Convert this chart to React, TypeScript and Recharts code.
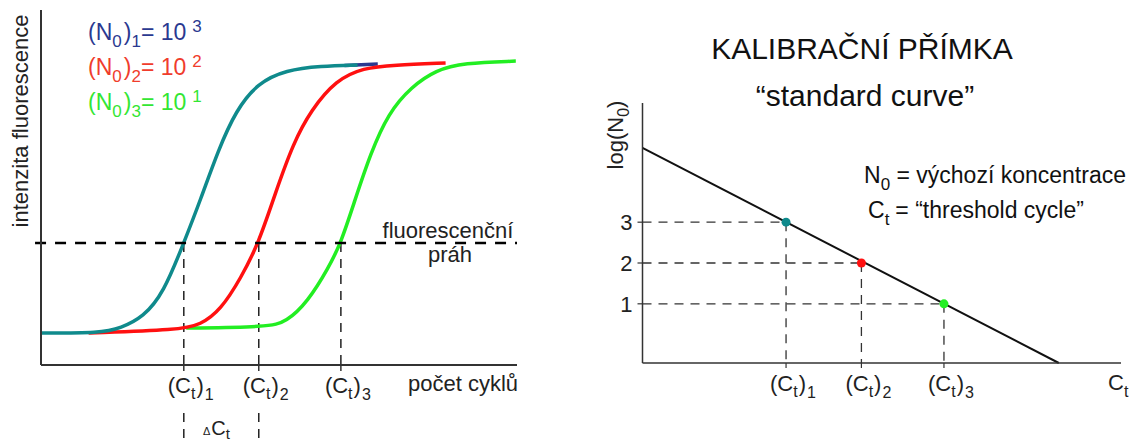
import React from 'react';
import {
  LineChart,
  Line,
  ComposedChart,
  Scatter,
  Cell,
  XAxis,
  YAxis,
  ReferenceLine,
  Legend,
} from 'recharts';

const FONT = '"Liberation Sans", Arial, sans-serif';

// amplification curves: cycle vs fluorescence (0-100 of axis)
const curve1 = [
  { x: 0, y: 9.0 }, { x: 5.0, y: 9.0 }, { x: 6.7, y: 10.4 }, { x: 8.6, y: 13.5 },
  { x: 10.3, y: 20.3 }, { x: 12.0, y: 34.4 }, { x: 13.4, y: 46.5 }, { x: 14.9, y: 60.6 },
  { x: 16.4, y: 71.8 }, { x: 18.2, y: 79.4 }, { x: 20.6, y: 83.1 }, { x: 23.5, y: 84.2 },
  { x: 26.6, y: 84.5 },
];
const curve1Tail = [{ x: 25.5, y: 84.4 }, { x: 28.3, y: 84.8 }];
const curve2 = [
  { x: 4.0, y: 9.0 }, { x: 11.6, y: 9.9 }, { x: 13.4, y: 11.3 }, { x: 15.1, y: 15.5 },
  { x: 16.8, y: 24.5 }, { x: 18.3, y: 34.4 }, { x: 19.7, y: 48.5 }, { x: 21.2, y: 62.5 },
  { x: 22.7, y: 71.8 }, { x: 24.8, y: 80.3 }, { x: 27.1, y: 83.7 }, { x: 29.6, y: 84.5 },
  { x: 34.0, y: 85.1 },
];
const curve3 = [
  { x: 12.2, y: 10.4 }, { x: 19.1, y: 10.7 }, { x: 20.6, y: 12.1 }, { x: 22.4, y: 17.7 },
  { x: 24.2, y: 27.6 }, { x: 25.2, y: 34.4 }, { x: 26.3, y: 45.6 }, { x: 27.7, y: 59.7 },
  { x: 29.2, y: 71.0 }, { x: 31.1, y: 78.3 }, { x: 33.2, y: 83.1 }, { x: 35.5, y: 85.1 },
  { x: 39.9, y: 85.6 },
];

const threshold = 34.4;
const ctValues = [12.0, 18.3, 25.2];
const ctIndex = ['1', '2', '3'];
const n0Exponents = ['3', '2', '1'];
const logN0 = [3, 2, 1];
const legendColors = ['#2a3990', '#f03c2c', '#33e633'];
const curveColors = ['#0f8a8c', '#ff1010', '#22ee22'];
const standardLine = [{ x: 0, y: 4.82 }, { x: 34.8, y: -0.45 }];
const standardPoints = ctValues.map((ct, i) => ({ x: ct, y: logN0[i] }));

const CtTick = (props: any) => {
  const { x, y, payload } = props;
  const i = ctValues.indexOf(payload.value);
  const base = y + 20;
  return (
    <text x={x - 16} y={base} fontSize={22} fontFamily={FONT} fill="#222">
      <tspan>(C</tspan>
      <tspan y={base + 6} fontSize={16}>t</tspan>
      <tspan y={base} dx={1}>)</tspan>
      <tspan y={base + 7} dx={1} fontSize={16}>{ctIndex[i]}</tspan>
    </text>
  );
};

const LogTick = (props: any) => {
  const { x, y, payload } = props;
  return (
    <text x={x} y={y + 8} textAnchor="end" fontSize={22} fontFamily={FONT} fill="#222">
      {payload.value}
    </text>
  );
};

const renderLegend = () => (
  <svg width={220} height={125}>
    {n0Exponents.map((exp, i) => {
      const base = 40 + i * 35;
      return (
        <text key={i} x={0} y={base} fontSize={23} fontFamily={FONT} fill={legendColors[i]}>
          <tspan>(N</tspan>
          <tspan y={base + 7} fontSize={17}>0</tspan>
          <tspan y={base} dx={2}>)</tspan>
          <tspan y={base + 7} fontSize={17}>{i + 1}</tspan>
          <tspan y={base}>= 10</tspan>
          <tspan y={base - 8} dx={6} fontSize={17}>{exp}</tspan>
        </text>
      );
    })}
  </svg>
);

const dashLine = { stroke: '#222', strokeWidth: 1.5, strokeDasharray: '9 7' };

export default function App() {
  return (
    <div style={{ position: 'absolute', left: 0, top: 0, width: 1137, height: 441, background: '#fff' }}>
      {/* amplification curves */}
      <div style={{ position: 'absolute', left: 0, top: 0 }}>
        <LineChart width={560} height={441} margin={{ top: 10, right: 43, bottom: 46, left: 11 }}>
          <XAxis
            type="number"
            dataKey="x"
            domain={[0, 40]}
            ticks={ctValues}
            interval={0}
            height={30}
            tickSize={6}
            tickMargin={2}
            axisLine={{ stroke: '#333', strokeWidth: 2 }}
            tickLine={{ stroke: '#333', strokeWidth: 1.5 }}
            tick={<CtTick />}
          />
          <YAxis
            type="number"
            dataKey="y"
            domain={[0, 100]}
            width={30}
            tick={false}
            tickLine={false}
            axisLine={{ stroke: '#333', strokeWidth: 2 }}
          />
          <Legend
            content={renderLegend}
            layout="vertical"
            align="center"
            verticalAlign="middle"
            wrapperStyle={{ position: 'absolute', left: 88, top: 0, width: 220, height: 125 }}
          />
          {ctValues.map((ct) => (
            <ReferenceLine
              key={'v' + ct}
              segment={[{ x: ct, y: threshold }, { x: ct, y: 0 }]}
              {...dashLine}
            />
          ))}
          {ctValues.slice(0, 2).map((ct) => (
            <ReferenceLine
              key={'b' + ct}
              segment={[{ x: ct, y: -13.5 }, { x: ct, y: -21.5 }]}
              ifOverflow="visible"
              {...dashLine}
            />
          ))}
          <Line data={curve1Tail} dataKey="y" type="basis" stroke={legendColors[0]} strokeWidth={3.5} dot={false} isAnimationActive={false} />
          <Line data={curve3} dataKey="y" type="basis" stroke={curveColors[2]} strokeWidth={3.5} dot={false} isAnimationActive={false} />
          <Line data={curve2} dataKey="y" type="basis" stroke={curveColors[1]} strokeWidth={3.5} dot={false} isAnimationActive={false} />
          <Line data={curve1} dataKey="y" type="basis" stroke={curveColors[0]} strokeWidth={3.5} dot={false} isAnimationActive={false} />
          <ReferenceLine
            segment={[{ x: -0.5, y: threshold }, { x: 40, y: threshold }]}
            ifOverflow="visible"
            stroke="#000"
            strokeWidth={2.5}
            strokeDasharray="11 9"
          />
          <text transform="translate(28,121) rotate(-90)" textAnchor="middle" fontSize={22} fontFamily={FONT} fill="#222">
            intenzita fluorescence
          </text>
          <text x={448} y={238} textAnchor="middle" fontSize={22} fontFamily={FONT} fill="#222">fluorescenční</text>
          <text x={450} y={262} textAnchor="middle" fontSize={22} fontFamily={FONT} fill="#222">práh</text>
          <text x={408} y={391} fontSize={22} fontFamily={FONT} fill="#222">počet cyklů</text>
          <text x={203} y={435} fontSize={20} fontFamily={FONT} fill="#222">
            <tspan fontSize={11}>Δ</tspan>
            <tspan dx={1}>C</tspan>
            <tspan y={439} fontSize={15}>t</tspan>
          </text>
        </LineChart>
      </div>

      {/* standard curve */}
      <div style={{ position: 'absolute', left: 560, top: 0 }}>
        <ComposedChart width={577} height={441} margin={{ top: 103, right: 16, bottom: 48, left: 52.5 }}>
          <XAxis
            type="number"
            dataKey="x"
            domain={[0, 40]}
            ticks={ctValues}
            interval={0}
            height={30}
            tickSize={5}
            tickMargin={3}
            axisLine={{ stroke: '#333', strokeWidth: 1.5 }}
            tickLine={{ stroke: '#333', strokeWidth: 1.2 }}
            tick={<CtTick />}
          />
          <YAxis
            type="number"
            dataKey="y"
            domain={[-0.45, 5.92]}
            ticks={logN0}
            interval={0}
            width={30}
            tickSize={5}
            tickMargin={5}
            axisLine={{ stroke: '#333', strokeWidth: 1.5 }}
            tickLine={{ stroke: '#333', strokeWidth: 1.2 }}
            tick={<LogTick />}
          />
          {standardPoints.map((p) => (
            <ReferenceLine
              key={'h' + p.x}
              segment={[{ x: 0, y: p.y }, { x: p.x, y: p.y }]}
              stroke="#333"
              strokeWidth={1.3}
              strokeDasharray="9 7"
            />
          ))}
          {standardPoints.map((p) => (
            <ReferenceLine
              key={'v' + p.x}
              segment={[{ x: p.x, y: p.y }, { x: p.x, y: -0.45 }]}
              stroke="#333"
              strokeWidth={1.3}
              strokeDasharray="9 7"
            />
          ))}
          <Line data={standardLine} dataKey="y" type="linear" stroke="#111" strokeWidth={2} dot={false} isAnimationActive={false} />
          <Scatter
            data={standardPoints}
            dataKey="y"
            isAnimationActive={false}
            shape={(p: any) => <circle cx={p.cx} cy={p.cy} r={4.5} fill={p.fill} />}
          >
            {standardPoints.map((p, i) => (
              <Cell key={i} fill={curveColors[i]} />
            ))}
          </Scatter>
          <text x={302} y={59} textAnchor="middle" fontSize={30} fontFamily={FONT} fill="#111">KALIBRAČNÍ PŘÍMKA</text>
          <text x={305} y={106} textAnchor="middle" fontSize={30} fontFamily={FONT} fill="#111">“standard curve”</text>
          <text transform="translate(63,135) rotate(-90)" textAnchor="middle" fontSize={22} fontFamily={FONT} fill="#222">
            <tspan>log(N</tspan>
            <tspan dy={6} fontSize={16}>0</tspan>
            <tspan dy={-6}>)</tspan>
          </text>
          <text x={304} y={183} fontSize={23} fontFamily={FONT} fill="#111">
            <tspan>N</tspan>
            <tspan y={190} fontSize={17}>0</tspan>
            <tspan y={183}> = výchozí koncentrace</tspan>
          </text>
          <text x={308} y={218} fontSize={23} fontFamily={FONT} fill="#111">
            <tspan>C</tspan>
            <tspan y={225} fontSize={17}>t</tspan>
            <tspan y={218} dx={6}>= “threshold cycle”</tspan>
          </text>
          <text x={548} y={390} fontSize={22} fontFamily={FONT} fill="#222">
            <tspan>C</tspan>
            <tspan y={397} fontSize={16}>t</tspan>
          </text>
        </ComposedChart>
      </div>
    </div>
  );
}
